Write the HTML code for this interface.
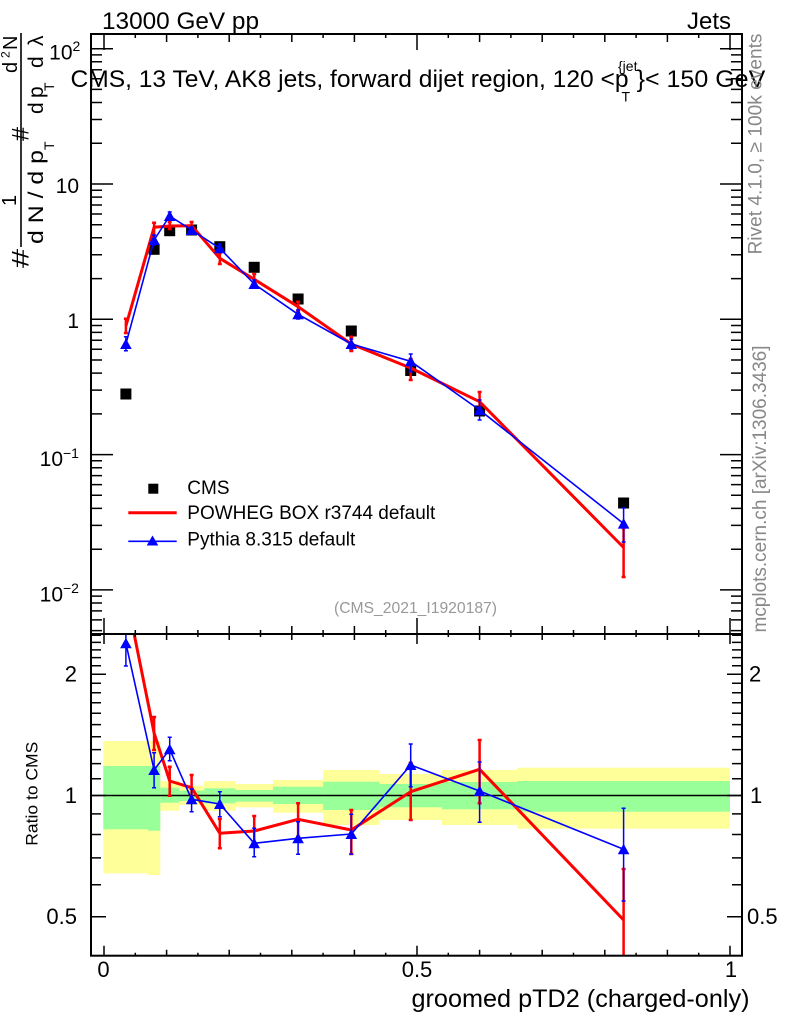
<!DOCTYPE html>
<html><head><meta charset="utf-8"><style>html,body{margin:0;padding:0;background:#fff}svg{display:block}</style></head>
<body>
<svg width="786" height="1024" viewBox="0 0 786 1024" xmlns="http://www.w3.org/2000/svg" font-family="'Liberation Sans', Arial, Helvetica, sans-serif">
<rect width="786" height="1024" fill="#fff"/>
<defs>
<clipPath id="cu"><rect x="91" y="34" width="651" height="600"/></clipPath>
<clipPath id="cl"><rect x="91" y="634" width="651" height="322"/></clipPath>
</defs>

<!-- Header texts -->
<text x="102" y="29" font-size="24" textLength="157" lengthAdjust="spacingAndGlyphs">13000 GeV pp</text>
<text x="687" y="29" font-size="24" textLength="44" lengthAdjust="spacingAndGlyphs">Jets</text>
<text x="70.5" y="87" font-size="24" textLength="558" lengthAdjust="spacingAndGlyphs">CMS, 13 TeV, AK8 jets, forward dijet region, 120 &lt;p</text>
<text x="618" y="71" font-size="14">{jet</text>
<text x="621.5" y="101.5" font-size="14">T</text>
<text x="636.6" y="87" font-size="24" textLength="128.7" lengthAdjust="spacingAndGlyphs">}&lt; 150 GeV</text>

<!-- Lower panel contents -->
<g clip-path="url(#cl)">
<g fill="#ffff99">
<rect x="103.3" y="741" width="44.5" height="132.3"/>
<rect x="147.8" y="741" width="12.5" height="134"/>
<rect x="160.3" y="781" width="18.8" height="29.7"/>
<rect x="179.1" y="785.7" width="25.1" height="19.3"/>
<rect x="204.2" y="781" width="31.3" height="29.7"/>
<rect x="235.5" y="784" width="37.5" height="23.3"/>
<rect x="273" y="780" width="50.1" height="32.7"/>
<rect x="323.1" y="770" width="56.3" height="55"/>
<rect x="379.4" y="774" width="62.6" height="46"/>
<rect x="442" y="770" width="75.2" height="55"/>
<rect x="517.2" y="767.7" width="212.8" height="61"/>
</g>
<g fill="#99ff99">
<rect x="103.3" y="766" width="44.5" height="63.3"/>
<rect x="147.8" y="766" width="12.5" height="64.7"/>
<rect x="160.3" y="787.7" width="18.8" height="15"/>
<rect x="179.1" y="790.7" width="25.1" height="10.3"/>
<rect x="204.2" y="788.3" width="31.3" height="15"/>
<rect x="235.5" y="790" width="37.5" height="11.7"/>
<rect x="273" y="786.7" width="50.1" height="17.3"/>
<rect x="323.1" y="781.7" width="56.3" height="28.3"/>
<rect x="379.4" y="784" width="62.6" height="23.3"/>
<rect x="442" y="782" width="75.2" height="27.3"/>
<rect x="517.2" y="781" width="212.8" height="30.7"/>
</g>
<line x1="91" y1="795.5" x2="742" y2="795.5" stroke="#000" stroke-width="1.6"/>
<polyline fill="none" stroke="#ff0000" stroke-width="3" stroke-linejoin="round" points="125.9,593.2 154.1,733 169.7,781 191.6,787.7 219.8,833.3 254.2,831 298.1,819.3 351.3,830 410.7,791.7 479.6,769.3 623.6,920"/>
<path fill="none" stroke="#ff0000" stroke-width="2.5" d="M154.1 717V750M152.1 717h4M152.1 750h4
M169.7 766.7V795.7M167.7 766.7h4M167.7 795.7h4
M191.6 775V801.7M189.6 775h4M189.6 801.7h4
M219.8 819V848.3M217.8 819h4M217.8 848.3h4
M254.2 816V845M252.2 816h4M252.2 845h4
M298.1 803.3V836.7M296.1 803.3h4M296.1 836.7h4
M351.3 810V854M349.3 810h4M349.3 854h4
M410.7 763V820M408.7 763h4M408.7 820h4
M479.6 740V803.3M477.6 740h4M477.6 803.3h4
M623.6 869V960M621.6 869h4"/>
<polyline fill="none" stroke="#0000ff" stroke-width="1.6" stroke-linejoin="round" points="125.9,643.3 154.1,770 169.7,749.3 191.6,799.3 219.8,804 254.2,843.3 298.1,838.3 351.3,834 410.7,765 479.6,791 623.6,849.3"/>
<path fill="none" stroke="#0000ff" stroke-width="1.5" d="M125.9 628V666M123.9 666h4
M154.1 752.7V787.7M152.1 752.7h4M152.1 787.7h4
M169.7 737.3V760.7M167.7 737.3h4M167.7 760.7h4
M191.6 789V811.7M189.6 789h4M189.6 811.7h4
M219.8 791.7V816.7M217.8 791.7h4M217.8 816.7h4
M254.2 828.3V856.7M252.2 828.3h4M252.2 856.7h4
M298.1 821.7V854.3M296.1 821.7h4M296.1 854.3h4
M351.3 814.3V854.3M349.3 814.3h4M349.3 854.3h4
M410.7 744V786.7M408.7 744h4M408.7 786.7h4
M479.6 762V822.3M477.6 762h4M477.6 822.3h4
M623.6 808.3V901M621.6 808.3h4M621.6 901h4"/>
<path fill="#0000ff" d="M120.1 648.3L131.7 648.3L125.9 637.8Z
M148.3 775L159.9 775L154.1 764.5Z
M163.9 754.3L175.5 754.3L169.7 743.8Z
M185.8 804.3L197.4 804.3L191.6 793.8Z
M214 809L225.6 809L219.8 798.5Z
M248.4 848.3L260 848.3L254.2 837.8Z
M292.3 843.3L303.9 843.3L298.1 832.8Z
M345.5 839L357.1 839L351.3 828.5Z
M404.9 770L416.5 770L410.7 759.5Z
M473.8 796L485.4 796L479.6 785.5Z
M617.8 854.3L629.4 854.3L623.6 843.8Z"/>
</g>

<!-- Upper panel contents -->
<g clip-path="url(#cu)">
<g fill="#000">
<rect x="120.4" y="388.5" width="11" height="11"/>
<rect x="148.6" y="243.8" width="11" height="11"/>
<rect x="164.2" y="225.2" width="11" height="11"/>
<rect x="186.1" y="224.5" width="11" height="11"/>
<rect x="214.3" y="241.2" width="11" height="11"/>
<rect x="248.7" y="261.8" width="11" height="11"/>
<rect x="292.6" y="293.5" width="11" height="11"/>
<rect x="345.8" y="325.5" width="11" height="11"/>
<rect x="405.2" y="365" width="11" height="11"/>
<rect x="474.1" y="405.5" width="11" height="11"/>
<rect x="618.1" y="497.5" width="11" height="11"/>
</g>
<polyline fill="none" stroke="#ff0000" stroke-width="3" stroke-linejoin="round" points="125.9,326 154.1,227.3 169.7,226 191.6,225.7 219.8,258.3 254.2,279.3 298.1,306.7 351.3,344 410.7,368 479.6,401.7 623.6,547.5"/>
<path fill="none" stroke="#ff0000" stroke-width="2.5" d="M125.9 318.7V333M123.9 318.7h4M123.9 333h4
M154.1 222.7V240M152.1 222.7h4M152.1 240h4
M169.7 222V229M167.7 222h4M167.7 229h4
M191.6 222V229M189.6 222h4M189.6 229h4
M219.8 253V264M217.8 253h4M217.8 264h4
M254.2 274V285M252.2 274h4M252.2 285h4
M298.1 301.7V310.7M296.1 301.7h4M296.1 310.7h4
M351.3 336.7V351M349.3 336.7h4M349.3 351h4
M410.7 359V380M408.7 359h4M408.7 380h4
M479.6 392V410M477.6 392h4M477.6 410h4
M623.6 528V577M621.6 528h4M621.6 577h4"/>
<polyline fill="none" stroke="#0000ff" stroke-width="1.6" stroke-linejoin="round" points="125.9,344 154.1,240 169.7,216 191.6,230 219.8,248.3 254.2,284 298.1,314.3 351.3,344 410.7,361.3 479.6,410 623.6,523.6"/>
<path fill="none" stroke="#0000ff" stroke-width="1.5" d="M125.9 336.7V350.7M123.9 336.7h4M123.9 350.7h4
M154.1 235V245M152.1 235h4M152.1 245h4
M169.7 212V220M167.7 212h4M167.7 220h4
M191.6 227V233M189.6 227h4M189.6 233h4
M219.8 244V252M217.8 244h4M217.8 252h4
M254.2 280V288M252.2 280h4M252.2 288h4
M298.1 310V319M296.1 310h4M296.1 319h4
M351.3 339V349M349.3 339h4M349.3 349h4
M410.7 354V371.7M408.7 354h4M408.7 371.7h4
M479.6 400V420M477.6 400h4M477.6 420h4
M623.6 508V542M621.6 508h4M621.6 542h4"/>
<path fill="#0000ff" d="M120.1 349L131.7 349L125.9 338.5Z
M148.3 245L159.9 245L154.1 234.5Z
M163.9 221L175.5 221L169.7 210.5Z
M185.8 235L197.4 235L191.6 224.5Z
M214 253.3L225.6 253.3L219.8 242.8Z
M248.4 289L260 289L254.2 278.5Z
M292.3 319.3L303.9 319.3L298.1 308.8Z
M345.5 349L357.1 349L351.3 338.5Z
M404.9 366.3L416.5 366.3L410.7 355.8Z
M473.8 415L485.4 415L479.6 404.5Z
M617.8 528.6L629.4 528.6L623.6 518.1Z"/>
</g>

<!-- Frames -->
<rect x="91" y="34" width="651" height="600" fill="none" stroke="#000" stroke-width="2"/>
<rect x="91" y="634" width="651" height="321.7" fill="none" stroke="#000" stroke-width="2"/>

<!-- Ticks -->
<path fill="none" stroke="#000" stroke-width="1.5" d="
M91 48.7h22M91 184h22M91 319.3h22M91 454.6h22M91 589.9h22
M742 48.7h-22M742 184h-22M742 319.3h-22M742 454.6h-22M742 589.9h-22
M91 143.3h11M91 119.5h11M91 102.5h11M91 89.4h11M91 78.7h11M91 69.7h11M91 61.8h11M91 54.9h11
M91 278.6h11M91 254.8h11M91 237.8h11M91 224.7h11M91 214h11M91 205h11M91 197.1h11M91 190.2h11
M91 413.9h11M91 390.1h11M91 373.1h11M91 360h11M91 349.3h11M91 340.3h11M91 332.4h11M91 325.5h11
M91 549.2h11M91 525.4h11M91 508.4h11M91 495.3h11M91 484.6h11M91 475.6h11M91 467.7h11M91 460.8h11
M91 630.6h11M91 619.9h11M91 610.9h11M91 603h11M91 596.1h11
M742 143.3h-11M742 119.5h-11M742 102.5h-11M742 89.4h-11M742 78.7h-11M742 69.7h-11M742 61.8h-11M742 54.9h-11
M742 278.6h-11M742 254.8h-11M742 237.8h-11M742 224.7h-11M742 214h-11M742 205h-11M742 197.1h-11M742 190.2h-11
M742 413.9h-11M742 390.1h-11M742 373.1h-11M742 360h-11M742 349.3h-11M742 340.3h-11M742 332.4h-11M742 325.5h-11
M742 549.2h-11M742 525.4h-11M742 508.4h-11M742 495.3h-11M742 484.6h-11M742 475.6h-11M742 467.7h-11M742 460.8h-11
M742 630.6h-11M742 619.9h-11M742 610.9h-11M742 603h-11M742 596.1h-11
M91 674.3h15M91 795.5h15M91 916.7h15
M742 674.3h-15M742 795.5h-15M742 916.7h-15
M91 635.3h10M91 642.4h10M91 649.9h10M91 657.6h10M91 665.8h10M91 683.3h10M91 692.7h10M91 702.7h10M91 713.3h10M91 724.6h10M91 736.7h10M91 749.6h10M91 763.6h10M91 778.8h10M91 813.9h10M91 834.5h10M91 857.9h10M91 884.8h10
M742 635.3h-10M742 642.4h-10M742 649.9h-10M742 657.6h-10M742 665.8h-10M742 683.3h-10M742 692.7h-10M742 702.7h-10M742 713.3h-10M742 724.6h-10M742 736.7h-10M742 749.6h-10M742 763.6h-10M742 778.8h-10M742 813.9h-10M742 834.5h-10M742 857.9h-10M742 884.8h-10
M104 34v16M417 34v16M730 34v16
M166.6 34v8M229.2 34v8M291.8 34v8M354.4 34v8M479.6 34v8M542.2 34v8M604.8 34v8M667.4 34v8
M135.3 34v4M197.9 34v4M260.5 34v4M323.1 34v4M385.7 34v4M448.3 34v4M510.9 34v4M573.5 34v4M636.1 34v4M698.7 34v4
M104 634v-16M417 634v-16M730 634v-16
M166.6 634v-8M229.2 634v-8M291.8 634v-8M354.4 634v-8M479.6 634v-8M542.2 634v-8M604.8 634v-8M667.4 634v-8
M135.3 634v-4M197.9 634v-4M260.5 634v-4M323.1 634v-4M385.7 634v-4M448.3 634v-4M510.9 634v-4M573.5 634v-4M636.1 634v-4M698.7 634v-4
M104 634v10M417 634v10M730 634v10
M166.6 634v6M229.2 634v6M291.8 634v6M354.4 634v6M479.6 634v6M542.2 634v6M604.8 634v6M667.4 634v6
M135.3 634v3M197.9 634v3M260.5 634v3M323.1 634v3M385.7 634v3M448.3 634v3M510.9 634v3M573.5 634v3M636.1 634v3M698.7 634v3
M104 955.7v-10M417 955.7v-10M730 955.7v-10
M166.6 955.7v-6M229.2 955.7v-6M291.8 955.7v-6M354.4 955.7v-6M479.6 955.7v-6M542.2 955.7v-6M604.8 955.7v-6M667.4 955.7v-6
M135.3 955.7v-3M197.9 955.7v-3M260.5 955.7v-3M323.1 955.7v-3M385.7 955.7v-3M448.3 955.7v-3M510.9 955.7v-3M573.5 955.7v-3M636.1 955.7v-3M698.7 955.7v-3
"/>

<!-- Upper y tick labels -->
<g font-size="21" text-anchor="end">
<text x="72.5" y="59.5">10</text>
<text x="79" y="193">10</text>
<text x="79" y="328">1</text>
<text x="63" y="466">10</text>
<text x="63" y="601.5">10</text>
</g>
<g font-size="14">
<text x="72.5" y="51">2</text>
<text x="63" y="458">−1</text>
<text x="63" y="593">−2</text>
</g>

<!-- Lower y tick labels -->
<g font-size="22">
<text x="77" y="681.5" text-anchor="end">2</text>
<text x="77" y="803" text-anchor="end">1</text>
<text x="77" y="924" text-anchor="end">0.5</text>
<text x="749" y="681.5">2</text>
<text x="750" y="803">1</text>
<text x="747" y="924">0.5</text>
</g>

<!-- X tick labels -->
<g font-size="22" text-anchor="middle">
<text x="103.5" y="977">0</text>
<text x="417" y="977">0.5</text>
<text x="731" y="977">1</text>
</g>
<text x="411.5" y="1007" font-size="25" textLength="338" lengthAdjust="spacingAndGlyphs">groomed pTD2 (charged-only)</text>

<!-- Ratio label -->
<text x="37.5" y="793.7" font-size="17" text-anchor="middle" transform="rotate(-90 37.5 793.7)" textLength="104" lengthAdjust="spacingAndGlyphs">Ratio to CMS</text>

<!-- Y axis label (rotated pieces) -->
<line x1="21" y1="33" x2="21" y2="247" stroke="#000" stroke-width="1.6"/>
<text x="28.5" y="268" font-size="24" transform="rotate(-90 28.5 268)" textLength="19" lengthAdjust="spacingAndGlyphs">#</text>
<text x="16" y="206" font-size="20" transform="rotate(-90 16 206)">1</text>
<text x="43" y="244" font-size="21" transform="rotate(-90 43 244)" textLength="94" lengthAdjust="spacingAndGlyphs">d N / d p</text>
<text x="54" y="150" font-size="14" transform="rotate(-90 54 150)">T</text>
<text x="28.5" y="141" font-size="24" transform="rotate(-90 28.5 141)" textLength="14" lengthAdjust="spacingAndGlyphs">#</text>
<text x="17" y="73" font-size="20" transform="rotate(-90 17 73)">d</text>
<text x="9.5" y="58" font-size="12" transform="rotate(-90 9.5 58)">2</text>
<text x="17" y="50" font-size="20" transform="rotate(-90 17 50)">N</text>
<text x="43" y="114" font-size="21" transform="rotate(-90 43 114)">d</text>
<text x="43" y="98" font-size="21" transform="rotate(-90 43 98)">p</text>
<text x="54" y="91" font-size="14" transform="rotate(-90 54 91)">T</text>
<text x="43" y="68" font-size="21" transform="rotate(-90 43 68)">d</text>
<text x="43" y="46" font-size="21" transform="rotate(-90 43 46)">λ</text>

<!-- Right side texts -->
<text x="761.5" y="254.5" font-size="19" fill="#888" transform="rotate(-90 761.5 254.5)" textLength="221" lengthAdjust="spacingAndGlyphs">Rivet 4.1.0, ≥ 100k events</text>
<text x="766" y="632.5" font-size="19" fill="#888" transform="rotate(-90 766 632.5)" textLength="287" lengthAdjust="spacingAndGlyphs">mcplots.cern.ch [arXiv:1306.3436]</text>

<!-- Legend -->
<rect x="148.3" y="483.7" width="10" height="10" fill="#000"/>
<text x="187.3" y="494" font-size="19">CMS</text>
<line x1="128.3" y1="512.7" x2="176.7" y2="512.7" stroke="#ff0000" stroke-width="3"/>
<text x="187.3" y="519" font-size="19" textLength="248" lengthAdjust="spacingAndGlyphs">POWHEG BOX r3744 default</text>
<line x1="128.3" y1="541.3" x2="176.7" y2="541.3" stroke="#0000ff" stroke-width="1.6"/>
<path fill="#0000ff" d="M146.7 545.5L158.3 545.5L152.5 535.5Z"/>
<text x="187.3" y="545.5" font-size="19" textLength="168" lengthAdjust="spacingAndGlyphs">Pythia 8.315 default</text>

<text x="334" y="613" font-size="15.5" fill="#999" textLength="163" lengthAdjust="spacingAndGlyphs">(CMS_2021_I1920187)</text>
</svg>
</body></html>
